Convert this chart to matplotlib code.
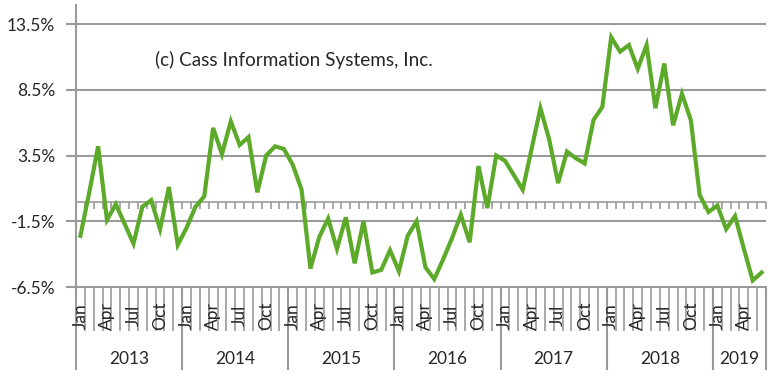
import numpy as np
import matplotlib
matplotlib.use("Agg")
import matplotlib.pyplot as plt
import matplotlib.transforms as mtransforms

# Cass freight index, year-over-year change (%), monthly Jan 2013 .. Jun 2019
years = ["2013", "2014", "2015", "2016", "2017", "2018", "2019"]
months_per_year = [12, 12, 12, 12, 12, 12, 6]
month_names = ["Jan", "Feb", "Mar", "Apr", "May", "Jun",
               "Jul", "Aug", "Sep", "Oct", "Nov", "Dec"]
shown_months = ["Jan", "Apr", "Jul", "Oct"]

yoy_2013 = [-2.6, 0.7, 4.2, -1.4, -0.2, -1.7, -3.2, -0.4, 0.1, -2.1, 1.1, -3.3]
yoy_2014 = [-2.0, -0.4, 0.4, 5.6, 3.6, 6.1, 4.3, 4.9, 0.7, 3.5, 4.2, 4.0]
yoy_2015 = [2.8, 0.9, -5.1, -2.7, -1.3, -3.6, -1.2, -4.7, -1.5, -5.4, -5.2, -3.7]
yoy_2016 = [-5.3, -2.6, -1.5, -5.0, -5.9, -4.4, -2.8, -1.0, -3.1, 2.7, -0.5, 3.5]
yoy_2017 = [3.1, 2.0, 0.9, 4.0, 7.1, 4.7, 1.4, 3.8, 3.3, 2.9, 6.2, 7.2]
yoy_2018 = [12.5, 11.4, 11.9, 10.1, 11.9, 7.1, 10.5, 5.8, 8.2, 6.2, 0.5, -0.8]
yoy_2019 = [-0.3, -2.1, -1.1, -3.6, -6.0, -5.4]

yticks = [-6.5, -1.5, 3.5, 8.5, 13.5]

values = yoy_2013 + yoy_2014 + yoy_2015 + yoy_2016 + yoy_2017 + yoy_2018 + yoy_2019
n = len(values)
x = np.arange(n)

plt.rcParams["font.family"] = ["Lato", "DejaVu Sans"]

grey = "#9a9a9a"
txt = "#262626"
green = "#5DAA2A"

fig = plt.figure(figsize=(7.76, 3.76), dpi=100)
W, H = 776, 376
left, right, top, bottom = 76, 766, 5, 287
ax = fig.add_axes([left / W, 1 - bottom / H, (right - left) / W, (bottom - top) / H])

ax.set_xlim(-0.5, n - 0.5)
ax.set_ylim(-6.5, 14.95)

# horizontal gridlines
for yv in yticks[1:]:
    ax.axhline(yv, color=grey, lw=1.5, zorder=1)

# category axis crossing at zero, with small ticks between months
bounds = np.arange(n + 1) - 0.5
ax.axhline(0, color=grey, lw=1.2, zorder=1)
ax.plot(bounds, np.zeros(len(bounds)), ls="none", marker=3, ms=5,
        mec=grey, mew=1.2, zorder=1)

ax.plot(x, values, color=green, lw=3.0, solid_joinstyle="miter", zorder=3)

# spines
for s in ["top", "right"]:
    ax.spines[s].set_visible(False)
ax.spines["left"].set_color(grey)
ax.spines["left"].set_linewidth(1.5)
ax.spines["bottom"].set_color(grey)
ax.spines["bottom"].set_linewidth(1.5)

ax.set_yticks(yticks)
ax.set_yticklabels([f"{v:.1f}%" for v in yticks], fontsize=12.5, color=txt)
ax.tick_params(axis="y", length=7, width=1.5, color=grey, pad=8)

# two-level category axis
year_starts = np.concatenate([[0], np.cumsum(months_per_year)]) - 0.5
ax.set_xticks(year_starts)
ax.set_xticklabels([])
ax.set_xticks(bounds, minor=True)
ax.tick_params(axis="x", which="major", length=60, width=1.5, color=grey)
ax.tick_params(axis="x", which="minor", length=32, width=1.2, color=grey)

trans = mtransforms.blended_transform_factory(ax.transData, ax.transAxes)
pos = 0
for yr, cnt in zip(years, months_per_year):
    for m in range(cnt):
        if month_names[m] in shown_months:
            ax.text(pos + m, -0.102, month_names[m], transform=trans, rotation=90,
                    ha="center", va="center", fontsize=12.5, color=txt)
    ax.text(pos + (cnt - 1) / 2, -0.255, yr, transform=trans,
            ha="center", va="center", fontsize=12.5, color=txt)
    pos += cnt

ax.text(0.114, 0.805, "(c) Cass Information Systems, Inc.", transform=ax.transAxes,
        fontsize=13.6, color=txt, ha="left", va="center")

fig.savefig("out.png", dpi=100)
